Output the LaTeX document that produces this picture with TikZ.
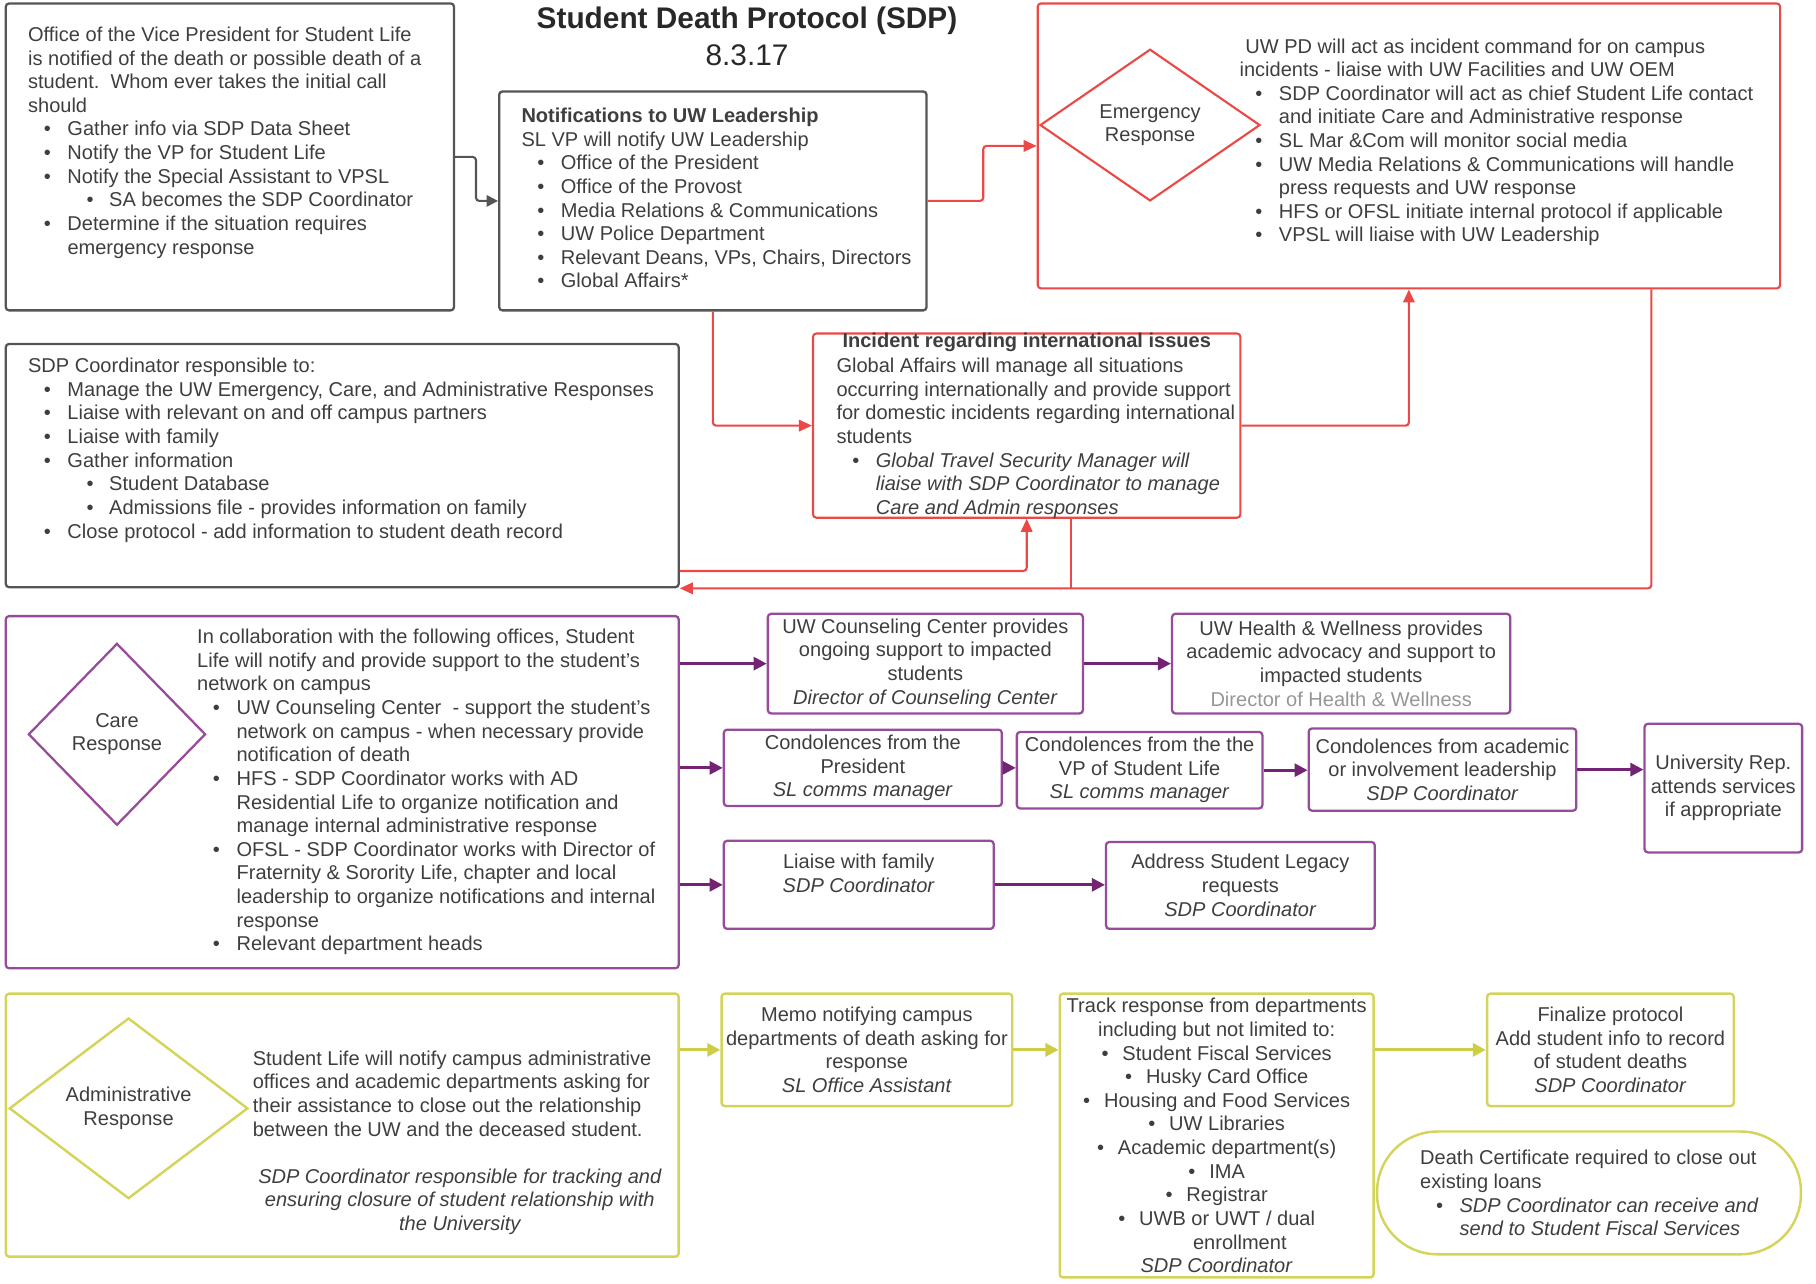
\documentclass[tikz,border=0pt]{standalone}
\usepackage{fontspec}
\setmainfont{Liberation Sans}
\usetikzlibrary{arrows.meta,positioning,shapes.geometric}
\definecolor{sdpred}{RGB}{236,72,72}
\definecolor{boxgray}{RGB}{85,85,85}
\definecolor{txtgray}{RGB}{62,62,62}
\definecolor{titlegray}{RGB}{40,40,40}
\definecolor{lightgray}{RGB}{150,150,150}
\definecolor{boxpurple}{RGB}{150,75,155}
\definecolor{arrowpurple}{RGB}{115,35,115}
\definecolor{boxyellow}{RGB}{212,212,90}
\definecolor{arrowyellow}{RGB}{205,205,70}

\newcommand{\bodyfont}{\fontsize{12.3}{14.5}\selectfont}
\newcommand{\itm}{\hspace*{0.34cm}\makebox[0.51cm][l]{\textbullet}}
\newcommand{\itmm}{\hspace*{1.26cm}\makebox[0.49cm][l]{\textbullet}}
\newcommand{\cnt}{\hspace*{0.85cm}}
\newcommand{\cb}{\textbullet\hspace{0.3cm}}

\tikzset{
  body/.style={font=\bodyfont, text=txtgray},
  sz/.style 2 args={minimum width=#1*0.025cm, minimum height=#2*0.025cm},
  txt/.style={body, inner sep=0pt, align=left, anchor=north west},
  kbox/.style={draw=boxgray, line width=1.4pt, rounded corners=2pt, inner sep=0pt},
  rbox/.style={draw=sdpred, line width=1.3pt, rounded corners=2pt, inner sep=0pt},
  pbox/.style={draw=boxpurple, line width=1.4pt, rounded corners=2pt, body, align=center, inner sep=2pt},
  ybox/.style={draw=boxyellow, line width=1.5pt, rounded corners=2pt, body, align=center, inner sep=2pt},
  dia/.style={diamond, inner sep=0pt, align=center, body},
  karrow/.style={draw=boxgray, line width=1.3pt, rounded corners=2pt, -{Triangle[length=7pt,width=7pt]}},
  rline/.style={draw=sdpred, line width=1.3pt, rounded corners=2pt},
  rarrow/.style={rline, -{Triangle[length=8pt,width=7pt]}},
  parrow/.style={draw=arrowpurple, line width=1.7pt, -{Triangle[length=8pt,width=8pt]}},
  yarrow/.style={draw=arrowyellow, line width=1.9pt, -{Triangle[length=8pt,width=8pt]}}
}

\begin{document}
\begin{tikzpicture}[x=0.025cm, y=-0.025cm]
  \useasboundingbox (0,0) rectangle (1568,1108);

  % title
  \node[font=\bfseries\fontsize{18.3}{22}\selectfont, text=titlegray] (title) at (645,18) {Student Death Protocol (SDP)};
  \node[font=\fontsize{18.3}{22}\selectfont, text=titlegray] (date) at (645,48) {8.3.17};

  % first call
  \node[kbox, sz={387}{265}] (call) at (198.5,135.5) {};
  \node[txt] (callt) at (24,23) {Office of the Vice President for Student Life\\
    is notified of the death or possible death of a\\
    student.\ \ Whom ever takes the initial call\\
    should\\
    \itm Gather info via SDP Data Sheet\\
    \itm Notify the VP for Student Life\\
    \itm Notify the Special Assistant to VPSL\\
    \itmm SA becomes the SDP Coordinator\\
    \itm Determine if the situation requires\\
    \cnt emergency response};

  % leadership
  \node[kbox, sz={369}{189}] (lead) at (615.5,173.5) {};
  \node[txt] (leadt) at (450,93) {\textbf{Notifications to UW Leadership}\\
    SL VP will notify UW Leadership\\
    \itm Office of the President\\
    \itm Office of the Provost\\
    \itm Media Relations \& Communications\\
    \itm UW Police Department\\
    \itm Relevant Deans, VPs, Chairs, Directors\\
    \itm Global Affairs*};

  % emergency response
  \node[rbox, sz={641}{246}] (emer) at (1216.5,126) {};
  \node[dia, draw=sdpred, line width=1.3pt, sz={190}{131}] (emerd) at (993,108) {Emergency\\Response};
  \node[txt] (emert) at (1070,33) {\hspace*{0.125cm}UW PD will act as incident command for on campus\\
    incidents - liaise with UW Facilities and UW OEM\\
    \itm SDP Coordinator will act as chief Student Life contact\\
    \cnt and initiate Care and Administrative response\\
    \itm SL Mar \&Com will monitor social media\\
    \itm UW Media Relations \& Communications will handle\\
    \cnt press requests and UW response\\
    \itm HFS or OFSL initiate internal protocol if applicable\\
    \itm VPSL will liaise with UW Leadership};

  % coordinator
  \node[kbox, sz={581}{210}] (coord) at (295.5,402) {};
  \node[txt] (coordt) at (24,309) {SDP Coordinator responsible to:\\
    \itm Manage the UW Emergency, Care, and Administrative Responses\\
    \itm Liaise with relevant on and off campus partners\\
    \itm Liaise with family\\
    \itm Gather information\\
    \itmm Student Database\\
    \itmm Admissions file - provides information on family\\
    \itm Close protocol - add information to student death record};

  % international
  \node[rbox, sz={369}{159}] (intl) at (886.5,367.5) {};
  \node[body, inner sep=0pt] (intlh) at (886.5,296) {\textbf{Incident regarding international issues}};
  \node[txt] (intlt) at (722,309) {Global Affairs will manage all situations\\
    occurring internationally and provide support\\
    for domestic incidents regarding international\\
    students\\
    \itm\textit{Global Travel Security Manager will}\\
    \cnt\textit{liaise with SDP Coordinator to manage}\\
    \cnt\textit{Care and Admin responses}};

  \coordinate (coordout) at ([yshift=0.375cm]coord.south east);
  \coordinate (intlout) at ([xshift=0.96cm]intl.south);
  \coordinate (emerout) at ([xshift=-2.8cm]emer.south east);
  \draw[karrow] (call.east) -- ++(18,0) |- (lead.west);
  \draw[rarrow] (lead.east) -- ++(48,0) |- (emer.west);
  \draw[rarrow] (lead.south) |- (intl.west);
  \draw[rarrow] (intl.east) -| (emer.south);
  \draw[rarrow] (coordout) -| (intl.south);
  \draw[rline] (intlout) -- (intlout |- coord.south);
  \draw[rarrow] (emerout) |- (coord.south east);

  % care response
  \node[pbox, sz={581}{304}] (care) at (295.5,684) {};
  \node[dia, draw=boxpurple, line width=1.4pt, sz={153}{157}] (cared) at (101,634) {Care\\Response};
  \node[txt] (caret) at (170,543) {In collaboration with the following offices, Student\\
    Life will notify and provide support to the student's\\
    network on campus\\
    \itm UW Counseling Center\ \ - support the student's\\
    \cnt network on campus - when necessary provide\\
    \cnt notification of death\\
    \itm HFS - SDP Coordinator works with AD\\
    \cnt Residential Life to organize notification and\\
    \cnt manage internal administrative response\\
    \itm OFSL - SDP Coordinator works with Director of\\
    \cnt Fraternity \& Sorority Life, chapter and local\\
    \cnt leadership to organize notifications and internal\\
    \cnt response\\
    \itm Relevant department heads};

  \node[pbox, sz={272}{86}] (couns) at (799,573) {UW Counseling Center provides\\ ongoing support to impacted\\ students\\ \textit{Director of Counseling Center}};
  \node[pbox, sz={292}{86}] (health) at (1158,573) {UW Health \& Wellness provides\\ academic advocacy and support to\\ impacted students\\ \textcolor{lightgray}{Director of Health \& Wellness}};
  \node[pbox, sz={240}{66}] (pres) at (745,663) {Condolences from the\\ President\\ \textit{SL comms manager}};
  \node[pbox, sz={212}{66}] (vpsl) at (984,665) {Condolences from the the\\ VP of Student Life\\ \textit{SL comms manager}};
  \node[pbox, sz={231}{71}] (acad) at (1245.5,664.5) {Condolences from academic\\ or involvement leadership\\ \textit{SDP Coordinator}};
  \node[pbox, sz={136}{111}] (urep) at (1488,680.5) {University Rep.\\ attends services\\ if appropriate};
  \node[pbox, sz={233}{76}] (liaise) at (741.5,764) {Liaise with family\\ \textit{SDP Coordinator}\\ \mbox{}};
  \node[pbox, sz={232}{75}] (legacy) at (1071,764.5) {Address Student Legacy\\ requests\\ \textit{SDP Coordinator}};

  \draw[parrow] (care.east |- couns.west) -- (couns.west);
  \draw[parrow] (couns.east) -- (health.west);
  \draw[parrow] (care.east |- pres.west) -- (pres.west);
  \draw[parrow] (pres.east) -- (pres.east -| vpsl.west);
  \draw[parrow] (vpsl.east) -- (vpsl.east -| acad.west);
  \draw[parrow] (acad.east) -- (acad.east -| urep.west);
  \draw[parrow] (care.east |- liaise.west) -- (liaise.west);
  \draw[parrow] (liaise.east) -- (liaise.east -| legacy.west);

  % administrative response
  \node[ybox, sz={581}{227}] (admin) at (295.5,971.5) {};
  \node[dia, draw=boxyellow, line width=1.5pt, sz={206}{156}] (admind) at (111,957) {Administrative\\Response};
  \node[txt] (admint) at (218,907) {Student Life will notify campus administrative\\
    offices and academic departments asking for\\
    their assistance to close out the relationship\\
    between the UW and the deceased student.};
  \node[body, font=\bodyfont\itshape, align=center, inner sep=0pt] (adminn) at (397,1037.5) {SDP Coordinator responsible for tracking and\\ ensuring closure of student relationship with\\ the University};

  \node[ybox, sz={251}{97}] (memo) at (748.5,906.5) {Memo notifying campus\\ departments of death asking for\\ response\\ \textit{SL Office Assistant}};
  \node[ybox, sz={271}{245}, inner sep=1pt] (track) at (1050.5,980.5) {Track response from departments\\ including but not limited to:\\
    \cb Student Fiscal Services\\ \cb Husky Card Office\\ \cb Housing and Food Services\\ \cb UW Libraries\\
    \cb Academic department(s)\\ \cb IMA\\ \cb Registrar\\ \cb UWB or UWT / dual\\ \hspace*{1cm}enrollment\\ \textit{SDP Coordinator}};
  \node[ybox, sz={213}{97}] (final) at (1390.5,906.5) {Finalize protocol\\ Add student info to record\\ of student deaths\\ \textit{SDP Coordinator}};
  \node[draw=boxyellow, line width=1.5pt, rounded corners=1.3cm, sz={366}{106}] (cert) at (1372,1030) {};
  \node[txt] (certt) at (1226,993) {Death Certificate required to close out\\
    existing loans\\
    \itm\textit{SDP Coordinator can receive and}\\
    \cnt\textit{send to Student Fiscal Services}};

  \draw[yarrow] (admin.east |- memo.west) -- (memo.west);
  \draw[yarrow] (memo.east) -- (memo.east -| track.west);
  \draw[yarrow] (track.east |- final.west) -- (final.west);
\end{tikzpicture}
\end{document}
